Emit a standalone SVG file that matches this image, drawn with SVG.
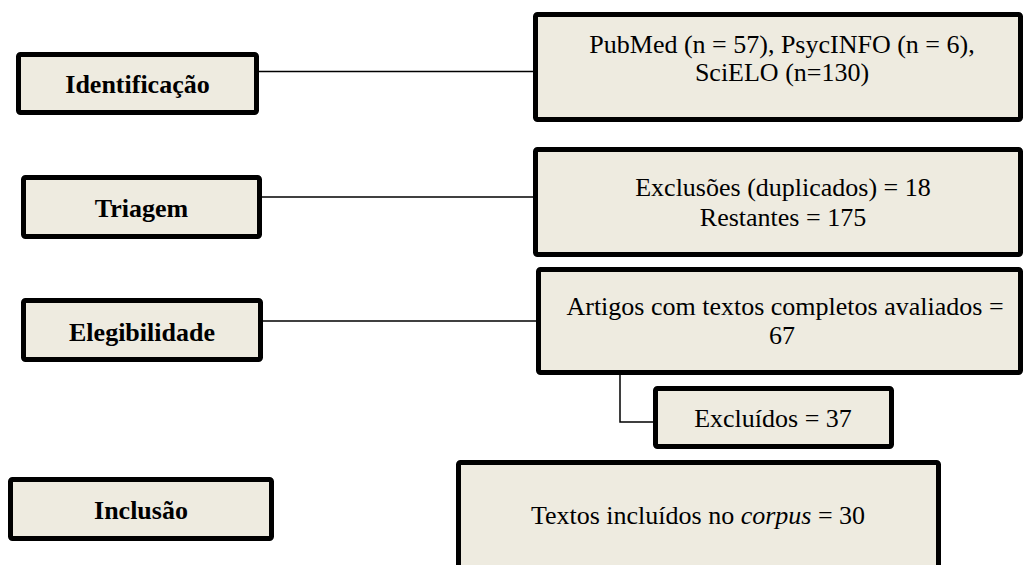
<svg xmlns="http://www.w3.org/2000/svg" width="1027" height="565" viewBox="0 0 1027 565">
<style>
.box{fill:#EEEBE0;stroke:#000;stroke-width:5;}
.lbl{font-family:"Liberation Serif","Times New Roman",serif;font-size:26px;font-weight:bold;text-anchor:middle;fill:#000}
.txt{font-family:"Liberation Serif","Times New Roman",serif;font-size:26px;text-anchor:middle;fill:#000}
.conn{stroke:#000;stroke-width:1.5;fill:none}
</style>
<rect width="1027" height="565" fill="#fff"/>
<g id="connectors">
<line class="conn" x1="259" y1="71.5" x2="533" y2="71.5"/>
<line class="conn" x1="262" y1="197" x2="533" y2="197"/>
<line class="conn" x1="263" y1="321" x2="536" y2="321"/>
<path class="conn" d="M620,375 V422 H653"/>
</g>
<g id="identificacao">
<rect class="box" x="18.5" y="54.5" width="238" height="58" rx="2"/>
<text class="lbl" x="137.5" y="93">Identificação</text>
</g>
<g id="triagem">
<rect class="box" x="23.5" y="177.5" width="236" height="59" rx="2"/>
<text class="lbl" x="141.5" y="217">Triagem</text>
</g>
<g id="elegibilidade">
<rect class="box" x="23.5" y="300.5" width="237" height="59" rx="2"/>
<text class="lbl" x="142" y="341">Elegibilidade</text>
</g>
<g id="inclusao">
<rect class="box" x="10.5" y="479.5" width="261" height="59" rx="2"/>
<text class="lbl" x="141" y="519">Inclusão</text>
</g>
<g id="bases">
<rect class="box" x="535.5" y="14.5" width="485" height="105" rx="2"/>
<text class="txt" x="782" y="53">PubMed (n = 57), PsycINFO (n = 6),</text>
<text class="txt" x="782" y="81">SciELO (n=130)</text>
</g>
<g id="exclusoes">
<rect class="box" x="535.5" y="149.5" width="485" height="105" rx="2"/>
<text class="txt" x="783" y="196">Exclusões (duplicados) = 18</text>
<text class="txt" x="783" y="226">Restantes = 175</text>
</g>
<g id="artigos">
<rect class="box" x="538.5" y="269.5" width="482" height="103" rx="2"/>
<text class="txt" x="785" y="315">Artigos com textos completos avaliados =</text>
<text class="txt" x="782" y="344">67</text>
</g>
<g id="excluidos">
<rect class="box" x="655.5" y="388.5" width="236" height="58" rx="2"/>
<text class="txt" x="773" y="427">Excluídos = 37</text>
</g>
<g id="textos">
<rect class="box" x="458.5" y="462.5" width="480" height="120" rx="2"/>
<text class="txt" x="698" y="524">Textos incluídos no <tspan font-style="italic">corpus</tspan> = 30</text>
</g>
</svg>
